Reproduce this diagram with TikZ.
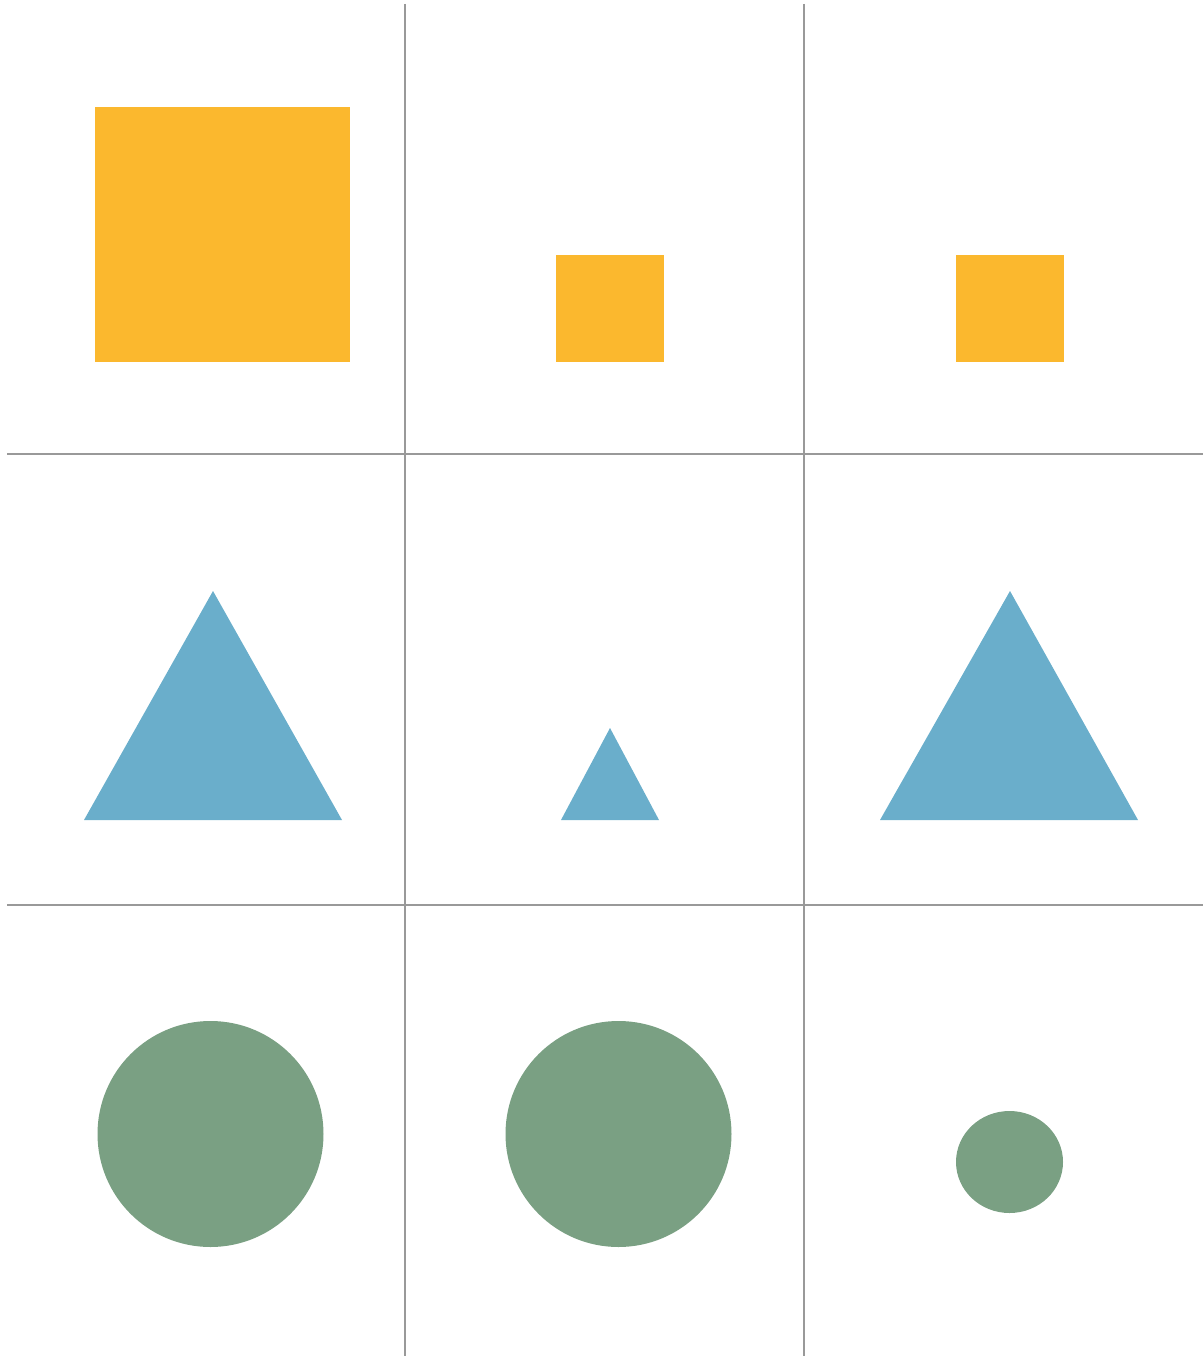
\documentclass[tikz,border=0pt]{standalone}
\begin{document}
\begin{tikzpicture}[x=1pt,y=-1pt,
  gridline/.style={draw=gray!80!white,line width=2pt},
  sqfill/.style={fill={rgb,255:red,251;green,184;blue,46}},
  trifill/.style={fill={rgb,255:red,106;green,174;blue,203}},
  cirfill/.style={fill={rgb,255:red,122;green,160;blue,131}}]
\useasboundingbox (0,0) rectangle (1203,1356);
% grid
\draw[gridline] (405,4) -- (405,1356);
\draw[gridline] (804,4) -- (804,1356);
\draw[gridline] (7,454) -- (1203,454);
\draw[gridline] (7,905) -- (1203,905);
% squares
\fill[sqfill] (95,107) rectangle (350,362);
\fill[sqfill] (556,255) rectangle (664,362);
\fill[sqfill] (956,255) rectangle (1064,362);
% triangles
\fill[trifill] (213,591) -- (342,820) -- (84,820) -- cycle;
\fill[trifill] (610,728) -- (659,820) -- (561,820) -- cycle;
\fill[trifill] (1010,591) -- (1138,820) -- (880,820) -- cycle;
% circles
\fill[cirfill] (210.5,1134) circle[radius=113];
\fill[cirfill] (618.5,1134) circle[radius=113];
\fill[cirfill] (1009.5,1162) ellipse[x radius=53.5,y radius=51];
\end{tikzpicture}
\end{document}
